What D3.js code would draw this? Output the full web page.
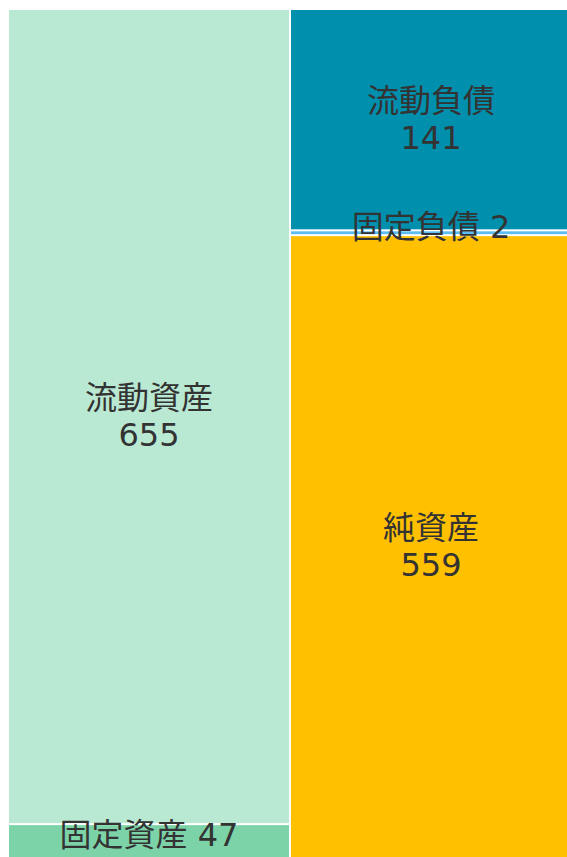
<!DOCTYPE html>
<html>
<head>
<meta charset="utf-8">
<script src="https://cdn.jsdelivr.net/npm/d3@7"></script>
<style>
  body { margin: 0; background: #fff; }
  svg { display: block; }
</style>
</head>
<body>
<div id="chart"></div>
<script>
// 貸借対照表 (左: 資産, 右: 負債・純資産)
const columns = ["資産", "負債・純資産"];

const assetNames = ["流動資産", "固定資産"];
const assetValues = [655, 47];
const assetSizes = [674, 28];      // 面積(図から読んだ比率)
const assetColors = ["#b9e9d2", "#7dd3a8"];

const liabNames = ["流動負債", "固定負債", "純資産"];
const liabValues = [141, 2, 559];
const liabSizes = [183, 4, 515];
const liabColors = ["#008fad", "#5dbdf0", "#ffc000"];

const width = 567, height = 857;

const svg = d3.select("#chart").append("svg")
    .attr("width", width)
    .attr("height", height);

const x = d3.scaleBand()
    .domain(columns)
    .range([8, 572])
    .padding(0);

const y = d3.scaleLinear()
    .domain([0, d3.sum(assetSizes)])
    .range([9, 858]);

// 列ごとにタイルを積み上げる
function tiles(col, names, values, sizes, colors) {
    let acc = 0;
    return names.map(function (n, i) {
        const t = { col: col, name: n, value: values[i], y0: acc, y1: acc + sizes[i], color: colors[i] };
        acc += sizes[i];
        return t;
    });
}

const data = tiles(columns[0], assetNames, assetValues, assetSizes, assetColors)
    .concat(tiles(columns[1], liabNames, liabValues, liabSizes, liabColors));

svg.append("g").selectAll("rect")
    .data(data)
    .enter()
    .append("rect")
    .attr("x", d => x(d.col) + 1)
    .attr("y", d => y(d.y0) + 1)
    .attr("width", x.bandwidth() - 2)
    .attr("height", d => Math.max(0, y(d.y1) - y(d.y0) - 2))
    .attr("fill", d => d.color);

// ラベルは全タイルの上に描く
const fontSize = 32;
const labels = svg.append("g")
    .style("font-family", "'DejaVu Sans', 'Noto Sans CJK JP', sans-serif")
    .style("font-size", fontSize + "px")
    .attr("fill", "#333");

data.forEach(function (d) {
    const cx = x(d.col) + x.bandwidth() / 2;
    const top = y(d.y0), bottom = y(d.y1);
    const cy = (top + bottom) / 2;
    if (bottom - top < 60) {
        // 小さいタイルは一行で
        labels.append("text")
            .attr("text-anchor", "middle")
            .attr("dominant-baseline", "central")
            .attr("x", cx).attr("y", cy - 6)
            .text(d.name + " " + d.value);
    } else {
        labels.append("text")
            .attr("text-anchor", "middle")
            .attr("dominant-baseline", "central")
            .attr("x", cx).attr("y", cy - 19)
            .text(d.name);
        labels.append("text")
            .attr("text-anchor", "middle")
            .attr("dominant-baseline", "central")
            .attr("x", cx).attr("y", cy + 18)
            .text(d.value);
    }
});
</script>
</body>
</html>
